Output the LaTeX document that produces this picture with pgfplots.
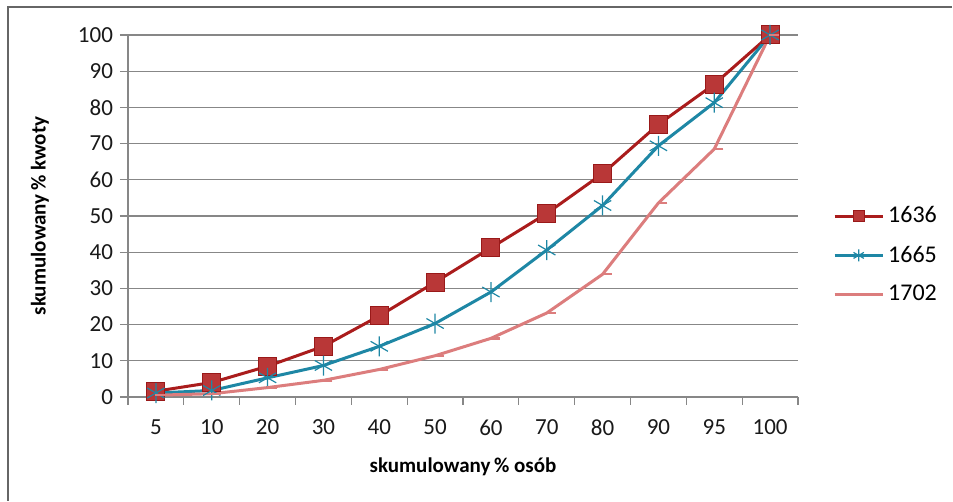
\documentclass[border=0pt]{standalone}
\usepackage{pgfplots}
\pgfplotsset{compat=1.18}
\usepackage{fontspec}
\setmainfont{Carlito}
\definecolor{cA}{RGB}{170,28,28}
\definecolor{cAf}{RGB}{185,55,55}
\definecolor{cB}{RGB}{30,135,165}
\definecolor{cC}{RGB}{220,125,125}
\definecolor{gridg}{RGB}{135,135,135}
\begin{document}
\begin{tikzpicture}
\begin{axis}[
  scale only axis,
  width=335pt, height=181pt,
  xmin=-0.5, xmax=11.5, ymin=0, ymax=100,
  axis x line*=bottom, axis y line*=left,
  axis line style={gridg, line width=0.6pt},
  xtick={0,1,2,3,4,5,6,7,8,9,10,11},
  xticklabels={5,10,20,30,40,50,60,70,80,90,95,100},
  minor xtick={-0.5,0.5,1.5,2.5,3.5,4.5,5.5,6.5,7.5,8.5,9.5,10.5,11.5},
  major x tick style={draw=none},
  minor tick length=4pt,
  minor x tick style={gridg, line width=0.6pt},
  ytick={0,10,...,100},
  major tick length=4pt,
  tick align=outside,
  y tick style={gridg, line width=0.6pt},
  ymajorgrids,
  grid style={gridg, line width=0.6pt},
  /pgf/number format/assume math mode=true,
  ticklabel style={font=\fontsize{11.5}{13}\selectfont, text=black!90},
  xticklabel style={yshift=-4pt},
  xlabel={\textbf{skumulowany\,\% osób}},
  ylabel={\textbf{skumulowany\,\% kwoty}},
  label style={font=\fontsize{10.5}{12}\selectfont},
  xlabel style={at={(0.5,0)}, anchor=center, yshift=-35pt},
  ylabel style={at={(0,0.5)}, anchor=center, yshift=44pt},
  legend style={at={(1.043,0.392)}, anchor=west, draw=none, fill=none,
    font=\fontsize{12}{14}\selectfont, row sep=6pt,
    legend cell align=left},
  legend image code/.code={\draw[mark repeat=2,mark phase=2, every mark/.append style={scale=0.6}] plot coordinates {(0pt,0pt)(12pt,0pt)(24pt,0pt)};},
  clip=false,
]
\addplot[cA, line width=1.5pt, mark=square*, mark size=4.5pt,
  mark options={fill=cAf, draw=cA!90!black, line width=0.5pt}]
  coordinates {(0,1.6)(1,4.0)(2,8.5)(3,14.0)(4,22.4)(5,31.7)(6,41.2)(7,50.7)(8,61.7)(9,75.3)(10,86.4)(11,100)};
\addlegendentry{1636}
\addplot[cB, line width=1.5pt, mark=asterisk, mark size=5pt,
  mark options={line width=0.6pt}]
  coordinates {(0,1.1)(1,1.8)(2,5.3)(3,8.7)(4,14.0)(5,20.3)(6,29.0)(7,40.6)(8,52.9)(9,69.4)(10,81.3)(11,100)};
\addlegendentry{1665}
\addplot[cC, line width=1.5pt, mark=-, mark size=2.5pt,
  mark options={xshift=2pt, line width=1.2pt}]
  coordinates {(0,0.5)(1,0.9)(2,2.6)(3,4.6)(4,7.6)(5,11.4)(6,16.2)(7,23.2)(8,33.9)(9,53.6)(10,68.5)(11,100)};
\addlegendentry{1702}
\end{axis}
\draw[gray!80!black, line width=1pt] ([xshift=-60pt]current axis.south west |- 0,-52pt) -- ([xshift=-60pt,yshift=195pt]current axis.south west) -- ([xshift=412pt,yshift=195pt]current axis.south west);
\useasboundingbox ([xshift=-64pt,yshift=-52pt]current axis.south west) rectangle ([xshift=412.5pt,yshift=198.5pt]current axis.south west);
\end{tikzpicture}
\end{document}
